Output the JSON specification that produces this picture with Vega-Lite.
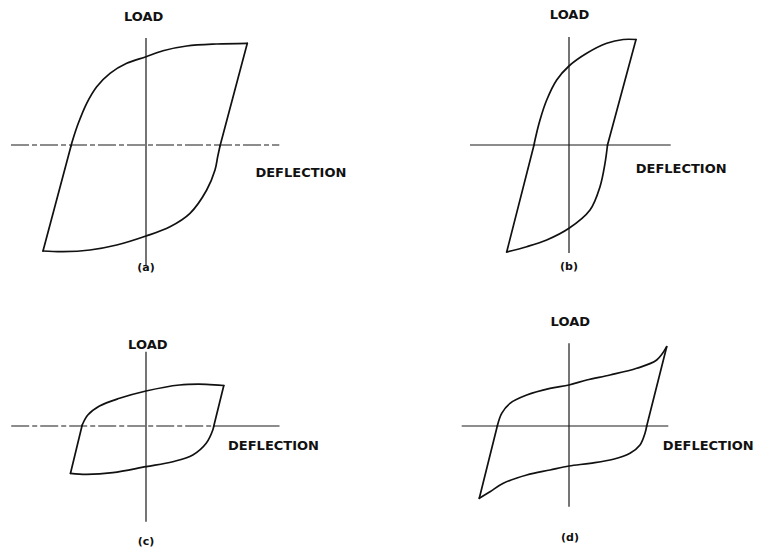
{
  "$schema": "https://vega.github.io/schema/vega-lite/v6.json",
  "padding": 0,
  "bounds": "flush",
  "background": "white",
  "config": {
    "view": {"stroke": null}
  },
  "data": {
    "values": [
      {"panel": "a", "kind": "loop", "seg": "left", "x": -103, "y": -106},
      {"panel": "a", "kind": "loop", "seg": "left", "x": -75, "y": -1},
      {"panel": "a", "kind": "loop", "seg": "upper", "x": -75, "y": -1},
      {"panel": "a", "kind": "loop", "seg": "upper", "x": -73.3, "y": 5},
      {"panel": "a", "kind": "loop", "seg": "upper", "x": -67.7, "y": 21.7},
      {"panel": "a", "kind": "loop", "seg": "upper", "x": -59.3, "y": 41.7},
      {"panel": "a", "kind": "loop", "seg": "upper", "x": -49.3, "y": 58.3},
      {"panel": "a", "kind": "loop", "seg": "upper", "x": -36, "y": 71.7},
      {"panel": "a", "kind": "loop", "seg": "upper", "x": -19.3, "y": 81.7},
      {"panel": "a", "kind": "loop", "seg": "upper", "x": 0, "y": 88.3},
      {"panel": "a", "kind": "loop", "seg": "upper", "x": 17, "y": 94.3},
      {"panel": "a", "kind": "loop", "seg": "upper", "x": 40.7, "y": 99},
      {"panel": "a", "kind": "loop", "seg": "upper", "x": 70.7, "y": 101},
      {"panel": "a", "kind": "loop", "seg": "upper", "x": 101.3, "y": 101.7},
      {"panel": "a", "kind": "loop", "seg": "right", "x": 101.3, "y": 101.7},
      {"panel": "a", "kind": "loop", "seg": "right", "x": 74, "y": -1},
      {"panel": "a", "kind": "loop", "seg": "lower", "x": -103, "y": -106},
      {"panel": "a", "kind": "loop", "seg": "lower", "x": -83, "y": -106.7},
      {"panel": "a", "kind": "loop", "seg": "lower", "x": -56, "y": -105},
      {"panel": "a", "kind": "loop", "seg": "lower", "x": -29.3, "y": -100},
      {"panel": "a", "kind": "loop", "seg": "lower", "x": 0, "y": -91},
      {"panel": "a", "kind": "loop", "seg": "lower", "x": 24, "y": -81.7},
      {"panel": "a", "kind": "loop", "seg": "lower", "x": 44, "y": -68.3},
      {"panel": "a", "kind": "loop", "seg": "lower", "x": 60.7, "y": -45},
      {"panel": "a", "kind": "loop", "seg": "lower", "x": 69, "y": -25},
      {"panel": "a", "kind": "loop", "seg": "lower", "x": 71.7, "y": -11.7},
      {"panel": "a", "kind": "loop", "seg": "lower", "x": 74, "y": -1},

      {"panel": "b", "kind": "loop", "seg": "left", "x": -62.3, "y": -107},
      {"panel": "b", "kind": "loop", "seg": "left", "x": -35, "y": 0},
      {"panel": "b", "kind": "loop", "seg": "upper", "x": -35, "y": 0},
      {"panel": "b", "kind": "loop", "seg": "upper", "x": -34, "y": 5},
      {"panel": "b", "kind": "loop", "seg": "upper", "x": -29, "y": 25},
      {"panel": "b", "kind": "loop", "seg": "upper", "x": -22.3, "y": 45},
      {"panel": "b", "kind": "loop", "seg": "upper", "x": -12.3, "y": 65},
      {"panel": "b", "kind": "loop", "seg": "upper", "x": 0, "y": 79},
      {"panel": "b", "kind": "loop", "seg": "upper", "x": 17.7, "y": 91.7},
      {"panel": "b", "kind": "loop", "seg": "upper", "x": 37.7, "y": 101.7},
      {"panel": "b", "kind": "loop", "seg": "upper", "x": 54.3, "y": 105.5},
      {"panel": "b", "kind": "loop", "seg": "upper", "x": 67, "y": 105.5},
      {"panel": "b", "kind": "loop", "seg": "right", "x": 67, "y": 105.5},
      {"panel": "b", "kind": "loop", "seg": "right", "x": 38.5, "y": 0},
      {"panel": "b", "kind": "loop", "seg": "lower", "x": -62.3, "y": -107},
      {"panel": "b", "kind": "loop", "seg": "lower", "x": -42.3, "y": -101.7},
      {"panel": "b", "kind": "loop", "seg": "lower", "x": -22.3, "y": -95},
      {"panel": "b", "kind": "loop", "seg": "lower", "x": 0, "y": -83.3},
      {"panel": "b", "kind": "loop", "seg": "lower", "x": 21, "y": -65},
      {"panel": "b", "kind": "loop", "seg": "lower", "x": 31, "y": -41.7},
      {"panel": "b", "kind": "loop", "seg": "lower", "x": 36, "y": -18.3},
      {"panel": "b", "kind": "loop", "seg": "lower", "x": 38.5, "y": 0},

      {"panel": "c", "kind": "loop", "seg": "left", "x": -75.5, "y": -47.3},
      {"panel": "c", "kind": "loop", "seg": "left", "x": -63.8, "y": 1},
      {"panel": "c", "kind": "loop", "seg": "upper", "x": -63.8, "y": 1},
      {"panel": "c", "kind": "loop", "seg": "upper", "x": -58.2, "y": 11},
      {"panel": "c", "kind": "loop", "seg": "upper", "x": -46.5, "y": 20},
      {"panel": "c", "kind": "loop", "seg": "upper", "x": -26.5, "y": 27.7},
      {"panel": "c", "kind": "loop", "seg": "upper", "x": 0, "y": 35},
      {"panel": "c", "kind": "loop", "seg": "upper", "x": 33.5, "y": 41},
      {"panel": "c", "kind": "loop", "seg": "upper", "x": 60.2, "y": 41.7},
      {"panel": "c", "kind": "loop", "seg": "upper", "x": 77.8, "y": 40.5},
      {"panel": "c", "kind": "loop", "seg": "right", "x": 77.8, "y": 40.5},
      {"panel": "c", "kind": "loop", "seg": "right", "x": 67.8, "y": 0},
      {"panel": "c", "kind": "loop", "seg": "lower", "x": -75.5, "y": -47.3},
      {"panel": "c", "kind": "loop", "seg": "lower", "x": -59.8, "y": -48.3},
      {"panel": "c", "kind": "loop", "seg": "lower", "x": -33.2, "y": -46.7},
      {"panel": "c", "kind": "loop", "seg": "lower", "x": 0, "y": -40.7},
      {"panel": "c", "kind": "loop", "seg": "lower", "x": 26.8, "y": -35.7},
      {"panel": "c", "kind": "loop", "seg": "lower", "x": 46.8, "y": -29},
      {"panel": "c", "kind": "loop", "seg": "lower", "x": 60.2, "y": -17.3},
      {"panel": "c", "kind": "loop", "seg": "lower", "x": 66.8, "y": -4},
      {"panel": "c", "kind": "loop", "seg": "lower", "x": 67.8, "y": 0},

      {"panel": "d", "kind": "loop", "seg": "left", "x": -89.7, "y": -72.3},
      {"panel": "d", "kind": "loop", "seg": "left", "x": -71.7, "y": 0},
      {"panel": "d", "kind": "loop", "seg": "upper", "x": -71.7, "y": 0},
      {"panel": "d", "kind": "loop", "seg": "upper", "x": -67.3, "y": 12.7},
      {"panel": "d", "kind": "loop", "seg": "upper", "x": -59, "y": 22.7},
      {"panel": "d", "kind": "loop", "seg": "upper", "x": -42.3, "y": 31},
      {"panel": "d", "kind": "loop", "seg": "upper", "x": -19, "y": 37.7},
      {"panel": "d", "kind": "loop", "seg": "upper", "x": 0, "y": 41},
      {"panel": "d", "kind": "loop", "seg": "upper", "x": 17.7, "y": 46},
      {"panel": "d", "kind": "loop", "seg": "upper", "x": 41, "y": 51},
      {"panel": "d", "kind": "loop", "seg": "upper", "x": 67.7, "y": 57.7},
      {"panel": "d", "kind": "loop", "seg": "upper", "x": 87.7, "y": 66},
      {"panel": "d", "kind": "loop", "seg": "upper", "x": 97.7, "y": 79.3},
      {"panel": "d", "kind": "loop", "seg": "right", "x": 97.7, "y": 79.3},
      {"panel": "d", "kind": "loop", "seg": "right", "x": 77.7, "y": 0},
      {"panel": "d", "kind": "loop", "seg": "lower", "x": -89.7, "y": -72.3},
      {"panel": "d", "kind": "loop", "seg": "lower", "x": -79, "y": -65.7},
      {"panel": "d", "kind": "loop", "seg": "lower", "x": -65.7, "y": -57.3},
      {"panel": "d", "kind": "loop", "seg": "lower", "x": -42.3, "y": -49},
      {"panel": "d", "kind": "loop", "seg": "lower", "x": -19, "y": -44},
      {"panel": "d", "kind": "loop", "seg": "lower", "x": 0, "y": -40},
      {"panel": "d", "kind": "loop", "seg": "lower", "x": 21, "y": -37.3},
      {"panel": "d", "kind": "loop", "seg": "lower", "x": 44.3, "y": -33.3},
      {"panel": "d", "kind": "loop", "seg": "lower", "x": 61, "y": -27.3},
      {"panel": "d", "kind": "loop", "seg": "lower", "x": 71, "y": -19},
      {"panel": "d", "kind": "loop", "seg": "lower", "x": 76, "y": -7.3},
      {"panel": "d", "kind": "loop", "seg": "lower", "x": 77.7, "y": 0},

      {"panel": "a", "kind": "axis", "trace": "solid", "x": 0, "y": 107, "x2": 0, "y2": -120},
      {"panel": "a", "kind": "axis", "trace": "broken", "x": -135, "y": 0, "x2": 133.3, "y2": 0},
      {"panel": "b", "kind": "axis", "trace": "solid", "x": 0, "y": 108, "x2": 0, "y2": -108},
      {"panel": "b", "kind": "axis", "trace": "solid", "x": -99, "y": 0, "x2": 101.7, "y2": 0},
      {"panel": "c", "kind": "axis", "trace": "solid", "x": 0, "y": 74.3, "x2": 0, "y2": -95.7},
      {"panel": "c", "kind": "axis", "trace": "broken", "x": -134.8, "y": 0, "x2": 68, "y2": 0},
      {"panel": "c", "kind": "axis", "trace": "solid", "x": 68, "y": 0, "x2": 133.5, "y2": 0},
      {"panel": "d", "kind": "axis", "trace": "solid", "x": 0, "y": 82.7, "x2": 0, "y2": -80.7},
      {"panel": "d", "kind": "axis", "trace": "solid", "x": -107.3, "y": 0, "x2": 99.3, "y2": 0},

      {"panel": "a", "kind": "name", "text": "LOAD", "x": -2.3, "y": 128.3},
      {"panel": "a", "kind": "name", "text": "DEFLECTION", "x": 154.9, "y": -27.8},
      {"panel": "a", "kind": "tag", "text": "(a)", "x": 0, "y": -123},
      {"panel": "b", "kind": "name", "text": "LOAD", "x": 0.5, "y": 130},
      {"panel": "b", "kind": "name", "text": "DEFLECTION", "x": 112.2, "y": -24.3},
      {"panel": "b", "kind": "tag", "text": "(b)", "x": 0, "y": -121.7},
      {"panel": "c", "kind": "name", "text": "LOAD", "x": 1.8, "y": 81},
      {"panel": "c", "kind": "name", "text": "DEFLECTION", "x": 127.5, "y": -19.7},
      {"panel": "c", "kind": "tag", "text": "(c)", "x": 0, "y": -115.7},
      {"panel": "d", "kind": "name", "text": "LOAD", "x": 1.3, "y": 104.3},
      {"panel": "d", "kind": "name", "text": "DEFLECTION", "x": 139.3, "y": -19.7},
      {"panel": "d", "kind": "tag", "text": "(d)", "x": 1, "y": -112}
    ]
  },
  "columns": 2,
  "spacing": {"row": 11, "column": 85},
  "concat": [
    {
      "width": 338, "height": 270,
      "transform": [{"filter": "datum.panel === 'a'"}],
      "encoding": {
        "x": {"field": "x", "type": "quantitative", "scale": {"domain": [-146, 192], "nice": false, "zero": false}, "axis": null},
        "y": {"field": "y", "type": "quantitative", "scale": {"domain": [-125, 145], "nice": false, "zero": false}, "axis": null}
      },
      "layer": [
        {"transform": [{"filter": "datum.kind === 'axis'"}], "mark": {"type": "rule", "color": "#1a1a1a", "strokeWidth": 1.2},
         "encoding": {"x2": {"field": "x2"}, "y2": {"field": "y2"}, "strokeDash": {"field": "trace", "type": "nominal", "scale": {"domain": ["solid", "broken"], "range": [[1, 0], [18, 3, 5, 3]]}, "legend": null}}},
        {"transform": [{"filter": "datum.kind === 'loop'"}], "mark": {"type": "line", "interpolate": "catmull-rom", "color": "#111111", "strokeWidth": 1.7, "strokeCap": "round", "strokeJoin": "round"},
         "encoding": {"detail": {"field": "seg", "type": "nominal"}}},
        {"transform": [{"filter": "datum.kind === 'name'"}], "mark": {"type": "text", "font": "DejaVu Sans", "fontSize": 13, "fontWeight": "bold", "color": "#111111", "align": "center", "baseline": "middle"},
         "encoding": {"text": {"field": "text"}}},
        {"transform": [{"filter": "datum.kind === 'tag'"}], "mark": {"type": "text", "font": "DejaVu Sans", "fontSize": 11, "fontWeight": "bold", "color": "#111111", "align": "center", "baseline": "middle"},
         "encoding": {"text": {"field": "text"}}}
      ]
    },
    {
      "width": 338, "height": 270,
      "transform": [{"filter": "datum.panel === 'b'"}],
      "encoding": {
        "x": {"field": "x", "type": "quantitative", "scale": {"domain": [-146, 192], "nice": false, "zero": false}, "axis": null},
        "y": {"field": "y", "type": "quantitative", "scale": {"domain": [-125, 145], "nice": false, "zero": false}, "axis": null}
      },
      "layer": [
        {"transform": [{"filter": "datum.kind === 'axis'"}], "mark": {"type": "rule", "color": "#1a1a1a", "strokeWidth": 1.2},
         "encoding": {"x2": {"field": "x2"}, "y2": {"field": "y2"}, "strokeDash": {"field": "trace", "type": "nominal", "scale": {"domain": ["solid", "broken"], "range": [[1, 0], [18, 3, 5, 3]]}, "legend": null}}},
        {"transform": [{"filter": "datum.kind === 'loop'"}], "mark": {"type": "line", "interpolate": "catmull-rom", "color": "#111111", "strokeWidth": 1.7, "strokeCap": "round", "strokeJoin": "round"},
         "encoding": {"detail": {"field": "seg", "type": "nominal"}}},
        {"transform": [{"filter": "datum.kind === 'name'"}], "mark": {"type": "text", "font": "DejaVu Sans", "fontSize": 13, "fontWeight": "bold", "color": "#111111", "align": "center", "baseline": "middle"},
         "encoding": {"text": {"field": "text"}}},
        {"transform": [{"filter": "datum.kind === 'tag'"}], "mark": {"type": "text", "font": "DejaVu Sans", "fontSize": 11, "fontWeight": "bold", "color": "#111111", "align": "center", "baseline": "middle"},
         "encoding": {"text": {"field": "text"}}}
      ]
    },
    {
      "width": 338, "height": 270,
      "transform": [{"filter": "datum.panel === 'c'"}],
      "encoding": {
        "x": {"field": "x", "type": "quantitative", "scale": {"domain": [-146, 192], "nice": false, "zero": false}, "axis": null},
        "y": {"field": "y", "type": "quantitative", "scale": {"domain": [-125, 145], "nice": false, "zero": false}, "axis": null}
      },
      "layer": [
        {"transform": [{"filter": "datum.kind === 'axis'"}], "mark": {"type": "rule", "color": "#1a1a1a", "strokeWidth": 1.2},
         "encoding": {"x2": {"field": "x2"}, "y2": {"field": "y2"}, "strokeDash": {"field": "trace", "type": "nominal", "scale": {"domain": ["solid", "broken"], "range": [[1, 0], [18, 3, 5, 3]]}, "legend": null}}},
        {"transform": [{"filter": "datum.kind === 'loop'"}], "mark": {"type": "line", "interpolate": "catmull-rom", "color": "#111111", "strokeWidth": 1.7, "strokeCap": "round", "strokeJoin": "round"},
         "encoding": {"detail": {"field": "seg", "type": "nominal"}}},
        {"transform": [{"filter": "datum.kind === 'name'"}], "mark": {"type": "text", "font": "DejaVu Sans", "fontSize": 13, "fontWeight": "bold", "color": "#111111", "align": "center", "baseline": "middle"},
         "encoding": {"text": {"field": "text"}}},
        {"transform": [{"filter": "datum.kind === 'tag'"}], "mark": {"type": "text", "font": "DejaVu Sans", "fontSize": 11, "fontWeight": "bold", "color": "#111111", "align": "center", "baseline": "middle"},
         "encoding": {"text": {"field": "text"}}}
      ]
    },
    {
      "width": 338, "height": 270,
      "transform": [{"filter": "datum.panel === 'd'"}],
      "encoding": {
        "x": {"field": "x", "type": "quantitative", "scale": {"domain": [-146, 192], "nice": false, "zero": false}, "axis": null},
        "y": {"field": "y", "type": "quantitative", "scale": {"domain": [-125, 145], "nice": false, "zero": false}, "axis": null}
      },
      "layer": [
        {"transform": [{"filter": "datum.kind === 'axis'"}], "mark": {"type": "rule", "color": "#1a1a1a", "strokeWidth": 1.2},
         "encoding": {"x2": {"field": "x2"}, "y2": {"field": "y2"}, "strokeDash": {"field": "trace", "type": "nominal", "scale": {"domain": ["solid", "broken"], "range": [[1, 0], [18, 3, 5, 3]]}, "legend": null}}},
        {"transform": [{"filter": "datum.kind === 'loop'"}], "mark": {"type": "line", "interpolate": "catmull-rom", "color": "#111111", "strokeWidth": 1.7, "strokeCap": "round", "strokeJoin": "round"},
         "encoding": {"detail": {"field": "seg", "type": "nominal"}}},
        {"transform": [{"filter": "datum.kind === 'name'"}], "mark": {"type": "text", "font": "DejaVu Sans", "fontSize": 13, "fontWeight": "bold", "color": "#111111", "align": "center", "baseline": "middle"},
         "encoding": {"text": {"field": "text"}}},
        {"transform": [{"filter": "datum.kind === 'tag'"}], "mark": {"type": "text", "font": "DejaVu Sans", "fontSize": 11, "fontWeight": "bold", "color": "#111111", "align": "center", "baseline": "middle"},
         "encoding": {"text": {"field": "text"}}}
      ]
    }
  ]
}
